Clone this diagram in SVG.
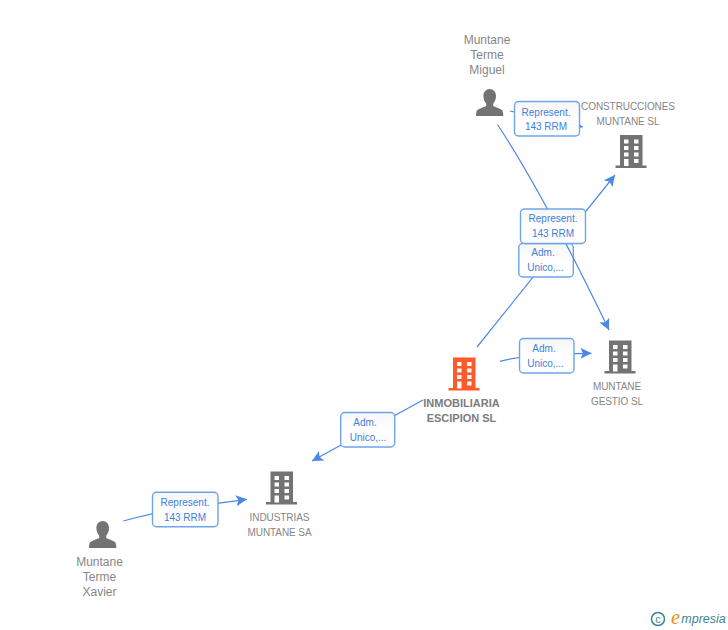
<svg xmlns="http://www.w3.org/2000/svg" width="728" height="630" viewBox="0 0 728 630">
<style>
text{font-family:"Liberation Sans",Arial,sans-serif;text-anchor:middle}
.n{font-size:10px;fill:#868686;letter-spacing:-.08px}
.p{font-size:12px;fill:#868686}
.b{font-size:11px;font-weight:bold;fill:#7c7c7c}
.l{font-size:10px;fill:#3d80dc}
.box{fill:url(#g);stroke:#6ea4ea;stroke-width:1.4}
.c{fill:none;stroke:#4a88e4;stroke-width:1.2;marker-end:url(#a)}
</style>
<defs>
<linearGradient id="g" x1="0" y1="0" x2="0" y2="1"><stop offset="0" stop-color="#f6f6f6"/><stop offset=".5" stop-color="#fff"/><stop offset="1" stop-color="#fff"/></linearGradient>
<marker id="a" markerUnits="userSpaceOnUse" markerWidth="14" markerHeight="14" refX="11" refY="6" orient="auto" viewBox="0 0 14 12"><path d="M0 0.5L11 6L0 11.5L2.5 6Z" fill="#4a88e4"/></marker>
<g id="bld"><path d="M4.5 0H27V30.500H31V33H0V30.500H4.500Z M8.500 4.500V8.500H13V4.500Z M18.500 4.500V8.500H23V4.500Z M8.500 11V15H13V11Z M18.500 11V15H23V11Z M8.500 17.500V21.500H13V17.500Z M18.500 17.500V21.500H23V17.500Z M8.500 24V31H13V24Z M18.500 24V28H23V24Z" fill-rule="evenodd"/></g>
<g id="per"><path d="M13.700 0C17.500 0 20 3 20 7C20 10.500 18.600 13 17.200 14.800V17C20 18.500 24 19.500 26 21C27 22 27.300 25 27.300 27H0C0 25 .3 22 1.300 21C3.300 19.500 7.300 18.500 10.200 17V14.800C8.800 13 7.400 10.500 7.400 7C7.400 3 9.900 0 13.700 0Z"/></g>
</defs>
<rect width="728" height="630" fill="#fff"/>
<g id="connectors">
<path class="c" d="M510 111L583 127"/>
<path class="c" d="M477 347L615 175"/>
<path class="c" d="M500 361.300Q519 356.500 540 355T591.500 353.300"/>
<path class="c" d="M423 400L312 461"/>
<path class="c" d="M123.300 521Q152 513 185 508T247 499.300"/>
</g>
<g id="lbl-inmo-construcciones"><rect class="box" x="518.800" y="243.500" width="54.500" height="33.500" rx="4"/><text class="l" x="543" y="256">Adm.</text><text class="l" x="545.500" y="271">Unico,...</text></g>
<g id="connector-miguel-gestio"><path class="c" d="M497.500 124.500Q545 197 609 330"/></g>
<g id="lbl-miguel-construcciones"><rect class="box" x="514.500" y="101.500" width="65" height="34.500" rx="4"/><text class="l" x="546" y="115.500">Represent.</text><text class="l" x="546" y="130">143 RRM</text></g>
<g id="lbl-miguel-gestio"><rect class="box" x="520.500" y="209" width="65" height="34.500" rx="4"/><text class="l" x="553" y="222">Represent.</text><text class="l" x="553" y="237">143 RRM</text></g>
<g id="lbl-inmo-gestio"><rect class="box" x="519.500" y="338.500" width="54.500" height="34.500" rx="4"/><text class="l" x="544" y="352">Adm.</text><text class="l" x="545.500" y="367">Unico,...</text></g>
<g id="lbl-inmo-industrias"><rect class="box" x="340.700" y="412.500" width="54" height="34.500" rx="4"/><text class="l" x="365" y="426">Adm.</text><text class="l" x="368" y="441">Unico,...</text></g>
<g id="lbl-xavier-industrias"><rect class="box" x="152.500" y="492.300" width="65.500" height="34.500" rx="4"/><text class="l" x="185" y="505.500">Represent.</text><text class="l" x="185" y="520.500">143 RRM</text></g>
<g id="node-miguel" fill="#737373"><text class="p" x="487" y="44">Muntane</text><text class="p" x="487" y="59">Terme</text><text class="p" x="487" y="74">Miguel</text><use href="#per" x="476" y="89"/></g>
<g id="node-construcciones" fill="#737373"><text class="n" x="628" y="110">CONSTRUCCIONES</text><text class="n" x="628" y="125">MUNTANE SL</text><use href="#bld" x="615.500" y="135"/></g>
<g id="node-gestio" fill="#737373"><use href="#bld" x="604.500" y="340.500"/><text class="n" x="617" y="390">MUNTANE</text><text class="n" x="617" y="405">GESTIO SL</text></g>
<g id="node-inmobiliaria" fill="#ff5a2b"><use href="#bld" x="448.500" y="357.500"/><text class="b" x="461.500" y="406.500">INMOBILIARIA</text><text class="b" x="461.500" y="421.500">ESCIPION SL</text></g>
<g id="node-industrias" fill="#737373"><use href="#bld" x="266" y="471.500"/><text class="n" x="279.500" y="521">INDUSTRIAS</text><text class="n" x="279.500" y="536">MUNTANE SA</text></g>
<g id="node-xavier" fill="#737373"><use href="#per" x="89" y="521"/><text class="p" x="99.500" y="566">Muntane</text><text class="p" x="99.500" y="581">Terme</text><text class="p" x="99.500" y="596">Xavier</text></g>
<g id="logo"><circle cx="658" cy="619" r="6.500" fill="none" stroke="#3e8399" stroke-width="1.500"/><text x="658" y="622.500" style="font-size:11px;fill:#3e8399">c</text><text x="675.500" y="624" style="font-family:'Liberation Serif',serif;font-size:20px;font-style:italic;fill:#f08a1d">e</text><text x="703.500" y="622.500" style="font-size:12.500px;font-style:italic;fill:#3e8399">mpresia</text></g>
</svg>
